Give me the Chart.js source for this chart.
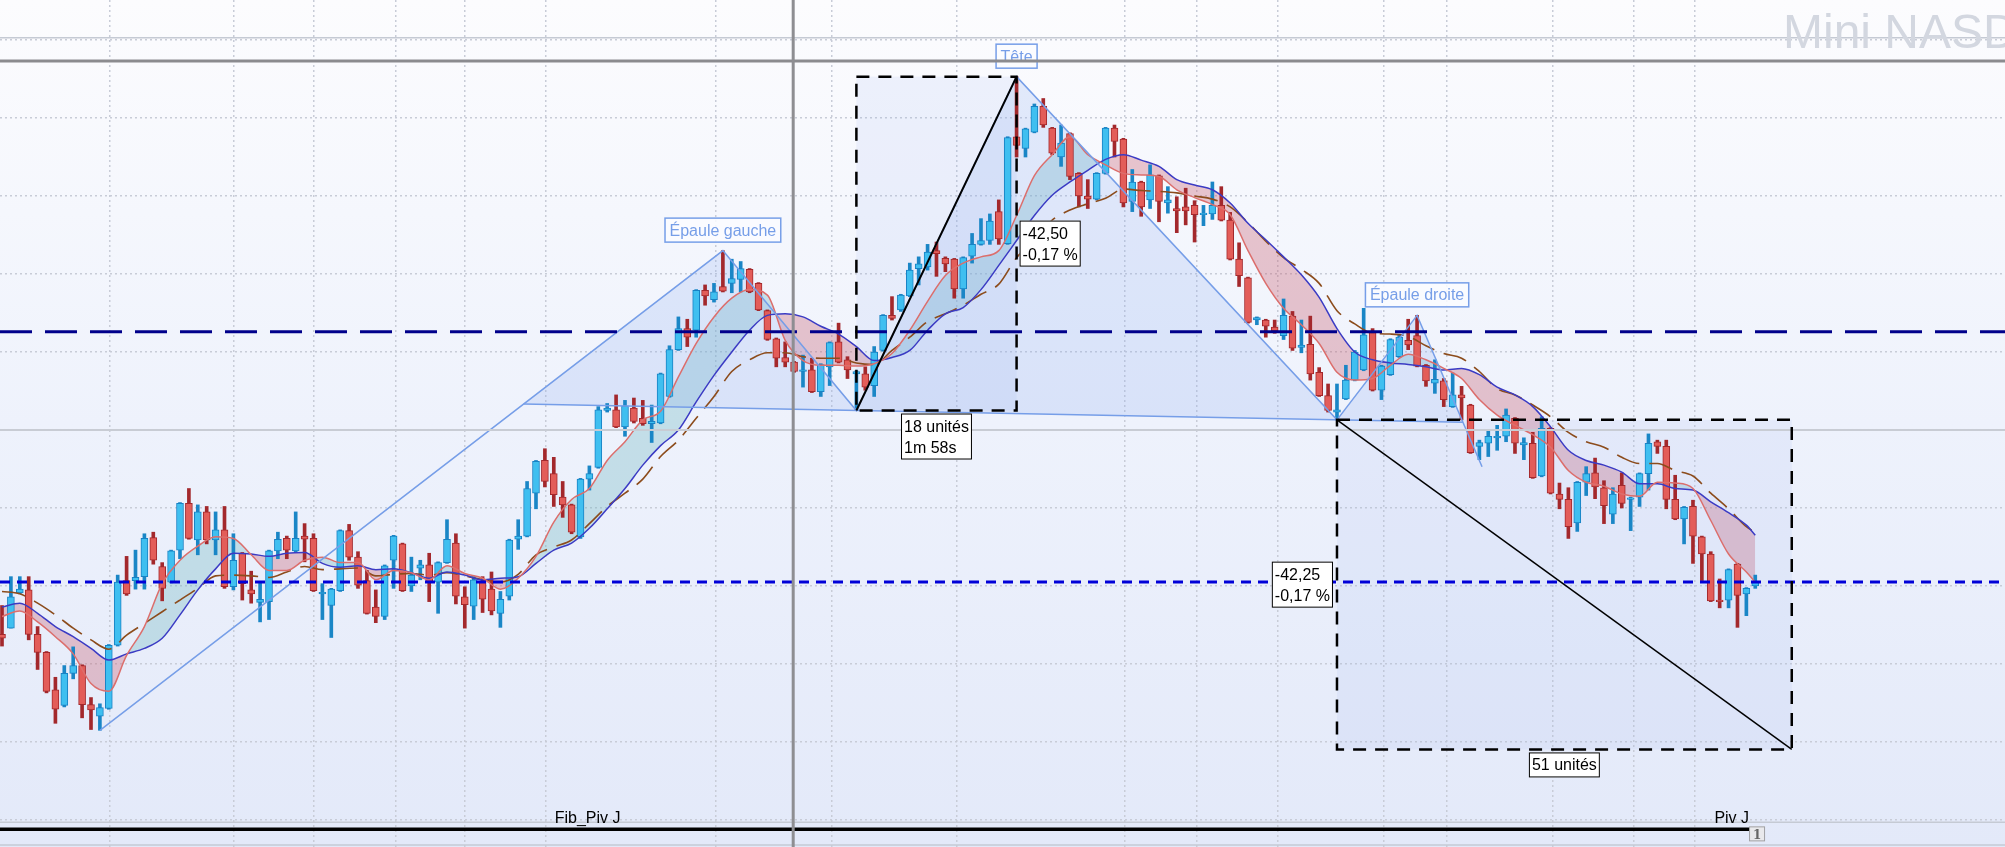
<!DOCTYPE html>
<html>
<head>
<meta charset="utf-8">
<title>Mini NASDAQ</title>
<script src="https://cdn.jsdelivr.net/npm/chart.js@4.4.1/dist/chart.umd.min.js"></script>
<style>
  html, body { margin: 0; padding: 0; overflow: hidden; background: #fff; }
  canvas { display: block; }
</style>
</head>
<body>
<canvas id="chart" width="2005" height="847"></canvas>
<script>
// one candle per bar, read left to right
const opens = [
  24973.8, 24974.6, 24979.1, 24979.5, 24973.8, 24971.5, 24966.7, 24964.7, 24968.8, 24969.8,
  24964.8, 24963.3, 24964.3, 24972.4, 24980.7, 24980.7, 24981.2, 24986.2, 24982.5, 24980.5,
  24984.6, 24990.6, 24985.9, 24989.5, 24985.9, 24987.2, 24979.9, 24984.2, 24979.5, 24977.9,
  24978.0, 24984.5, 24986.1, 24984.5, 24986.4, 24986.1, 24979.0, 24977.5, 24979.4, 24987.1,
  24983.7, 24980.7, 24977.3, 24976.1, 24983.3, 24985.4, 24980.0, 24982.3, 24982.7, 24980.5,
  24983.0, 24985.5, 24978.6, 24977.4, 24980.5, 24979.6, 24976.5, 24978.7, 24986.0, 24986.4,
  24991.9, 24996.1, 24994.4, 24991.4, 24990.4, 24986.3, 24993.7, 24995.2, 25002.5, 25002.6,
  25000.4, 25002.8, 25001.5, 25000.8, 25000.9, 25004.3, 25010.3, 25013.0, 25012.8, 25017.9,
  25016.7, 25018.4, 25018.8, 25019.3, 25020.6, 25018.8, 25015.3, 25011.7, 25009.3, 25008.7,
  25007.5, 25007.7, 25004.9, 25008.1, 25011.3, 25009.0, 25007.2, 25007.2, 25005.7, 25010.2,
  25014.7, 25015.4, 25017.2, 25020.7, 25020.9, 25023.0, 25022.0, 25021.9, 25018.1, 25022.3,
  25023.8, 25024.3, 25028.0, 25023.9, 25037.6, 25036.1, 25038.2, 25041.5, 25038.7, 25035.0,
  25038.0, 25032.9, 25030.0, 25029.6, 25032.9, 25038.7, 25037.3, 25029.3, 25031.8, 25029.5,
  25032.6, 25029.1, 25028.4, 25028.6, 25028.8, 25027.6, 25027.7, 25028.8, 25026.9, 25021.9,
  25019.5, 25014.1, 25014.1, 25013.2, 25012.1, 25014.6, 25010.6, 25011.0, 25007.4, 25004.4,
  25002.3, 25004.0, 25006.4, 25007.7, 25012.5, 25005.1, 25007.1, 25009.4, 25011.5, 25012.1,
  25008.3, 25006.0, 25006.3, 25003.0, 25004.5, 25003.2, 24997.9, 24998.3, 24999.0, 24999.2,
  25001.5, 24998.1, 24998.3, 24994.1, 25000.2, 24991.8, 24991.1, 24988.1, 24993.3, 24994.5,
  24992.6, 24989.2, 24992.9, 24991.1, 24991.4, 24994.4, 24998.5, 24997.9, 24991.1, 24988.6,
  24990.2, 24986.3, 24984.1, 24978.2, 24978.2, 24982.8, 24979.0, 24980.0
];
const highs = [
  24977.5, 24981.2, 24981.2, 24981.2, 24974.8, 24971.6, 24968.3, 24969.8, 24972.2, 24969.9,
  24965.7, 24964.9, 24972.5, 24981.4, 24983.8, 24984.6, 24986.7, 24986.9, 24983.0, 24984.6,
  24990.7, 24992.5, 24990.4, 24990.2, 24989.5, 24990.2, 24986.7, 24984.3, 24981.9, 24980.5,
  24984.6, 24986.9, 24986.4, 24989.5, 24988.0, 24986.7, 24980.3, 24979.7, 24987.2, 24987.9,
  24984.4, 24982.0, 24979.5, 24982.7, 24986.5, 24985.5, 24983.7, 24983.3, 24984.2, 24983.1,
  24988.5, 24986.7, 24979.9, 24981.2, 24981.2, 24981.8, 24979.3, 24986.0, 24988.5, 24993.4,
  24996.1, 24997.6, 24996.5, 24993.4, 24990.5, 24993.8, 24995.4, 25003.0, 25003.4, 25004.5,
  25003.8, 25004.1, 25003.8, 25003.2, 25007.3, 25010.8, 25014.5, 25014.2, 25018.0, 25018.6,
  25018.8, 25023.0, 25021.9, 25021.6, 25020.7, 25018.9, 25015.4, 25011.8, 25011.3, 25008.8,
  25009.6, 25009.2, 25008.5, 25011.3, 25013.7, 25009.4, 25007.6, 25008.1, 25010.7, 25014.8,
  25017.1, 25017.4, 25021.4, 25022.2, 25023.8, 25024.1, 25022.2, 25022.0, 25022.2, 25025.2,
  25027.1, 25027.7, 25029.5, 25037.6, 25045.3, 25038.7, 25041.8, 25042.5, 25038.8, 25039.1,
  25038.1, 25033.0, 25032.1, 25033.0, 25038.8, 25039.1, 25037.4, 25033.4, 25031.9, 25034.0,
  25032.7, 25031.2, 25029.9, 25031.0, 25029.4, 25028.8, 25031.8, 25031.2, 25027.9, 25024.0,
  25019.6, 25014.5, 25014.2, 25014.1, 25016.8, 25015.2, 25014.1, 25014.6, 25008.0, 25005.9,
  25005.9, 25008.3, 25010.2, 25015.6, 25013.0, 25008.3, 25011.7, 25012.2, 25014.2, 25014.7,
  25008.4, 25009.0, 25006.6, 25007.3, 25005.6, 25003.3, 24998.7, 25000.0, 25000.6, 25002.7,
  25001.6, 24999.0, 24999.7, 25001.7, 25000.3, 24993.2, 24992.6, 24993.4, 24995.3, 24996.4,
  24993.5, 24992.6, 24994.5, 24991.4, 24994.5, 24999.5, 24998.7, 24998.7, 24994.2, 24990.2,
  24991.0, 24986.4, 24984.4, 24980.9, 24982.2, 24982.9, 24979.8, 24981.4
];
const lows = [
  24972.3, 24974.6, 24979.0, 24973.1, 24969.3, 24966.3, 24962.4, 24964.5, 24968.1, 24963.1,
  24961.6, 24961.5, 24964.2, 24972.3, 24978.8, 24979.6, 24979.6, 24982.8, 24978.1, 24980.4,
  24983.5, 24986.0, 24984.0, 24985.4, 24984.0, 24979.7, 24979.5, 24978.2, 24977.8, 24975.4,
  24975.7, 24983.5, 24983.5, 24984.4, 24983.1, 24979.3, 24975.7, 24973.4, 24979.3, 24983.3,
  24979.7, 24976.4, 24975.3, 24975.7, 24979.7, 24979.3, 24979.3, 24980.8, 24978.0, 24976.5,
  24982.9, 24977.7, 24974.6, 24975.7, 24976.6, 24976.3, 24974.7, 24978.2, 24984.7, 24986.3,
  24989.9, 24992.7, 24990.2, 24988.8, 24986.7, 24986.1, 24992.3, 24995.1, 25002.3, 25000.3,
  24999.2, 25000.9, 25000.6, 24998.4, 25000.8, 25004.2, 25010.2, 25010.7, 25011.9, 25016.0,
  25016.4, 25017.7, 25017.6, 25017.7, 25017.6, 25015.3, 25011.5, 25008.1, 25008.1, 25007.4,
  25005.5, 25004.8, 25004.3, 25005.7, 25008.6, 25006.6, 25002.5, 25005.1, 25004.3, 25010.1,
  25014.1, 25015.2, 25017.1, 25018.6, 25020.5, 25019.7, 25020.3, 25016.9, 25016.9, 25021.4,
  25023.7, 25023.8, 25023.8, 25023.8, 25035.0, 25035.0, 25038.1, 25038.8, 25035.3, 25033.8,
  25032.1, 25028.6, 25028.4, 25029.5, 25032.8, 25035.0, 25028.6, 25028.0, 25027.4, 25028.4,
  25026.7, 25027.8, 25025.3, 25026.3, 25024.1, 25026.2, 25027.0, 25026.8, 25021.8, 25018.4,
  25013.7, 25013.5, 25011.9, 25012.4, 25011.6, 25010.2, 25009.9, 25006.4, 25004.3, 25002.3,
  25001.3, 25003.9, 25006.3, 25007.6, 25005.0, 25003.9, 25007.0, 25009.3, 25010.3, 25008.1,
  25005.6, 25004.7, 25003.0, 25002.9, 25001.3, 24997.0, 24996.2, 24996.6, 24997.4, 24998.5,
  24997.0, 24996.2, 24993.8, 24994.0, 24991.8, 24989.9, 24986.1, 24987.0, 24991.6, 24991.2,
  24988.0, 24988.0, 24990.0, 24987.1, 24990.2, 24992.3, 24997.0, 24989.9, 24988.5, 24985.4,
  24982.9, 24980.7, 24978.0, 24977.2, 24977.2, 24974.7, 24976.2, 24979.7
];
const closes = [
  24973.3, 24978.6, 24979.6, 24973.8, 24971.5, 24966.5, 24964.2, 24968.8, 24969.8, 24964.8,
  24964.1, 24964.4, 24972.4, 24980.5, 24979.0, 24981.1, 24986.1, 24983.3, 24979.7, 24984.5,
  24990.6, 24986.1, 24989.5, 24985.9, 24987.2, 24979.9, 24983.3, 24980.3, 24979.0, 24978.3,
  24984.5, 24986.0, 24984.6, 24986.1, 24986.0, 24979.4, 24979.2, 24979.6, 24987.1, 24983.7,
  24980.1, 24976.5, 24976.1, 24982.6, 24986.4, 24979.4, 24981.4, 24982.7, 24980.5, 24983.0,
  24986.0, 24978.7, 24977.6, 24980.8, 24978.3, 24976.8, 24978.3, 24985.9, 24986.4, 24992.5,
  24996.0, 24993.4, 24991.7, 24990.4, 24986.9, 24993.7, 24994.4, 25002.6, 25002.8, 25000.4,
  25003.1, 25001.1, 25000.8, 25001.1, 25007.2, 25010.3, 25013.0, 25011.9, 25017.9, 25017.2,
  25017.7, 25017.8, 25019.4, 25020.7, 25017.7, 25015.4, 25011.6, 25009.2, 25008.7, 25007.5,
  25007.7, 25004.9, 25008.4, 25011.2, 25008.7, 25007.7, 25007.5, 25005.5, 25010.0, 25014.7,
  25014.3, 25017.3, 25020.5, 25021.3, 25022.8, 25022.6, 25021.3, 25018.1, 25022.1, 25023.8,
  25024.3, 25026.8, 25024.5, 25037.5, 25036.5, 25038.6, 25041.5, 25039.1, 25035.5, 25036.8,
  25032.5, 25030.0, 25029.6, 25032.9, 25038.7, 25037.0, 25029.1, 25031.8, 25028.6, 25032.7,
  25029.3, 25029.5, 25028.1, 25028.1, 25027.6, 25027.8, 25028.8, 25026.9, 25021.9, 25019.8,
  25013.8, 25014.4, 25013.3, 25012.7, 25014.7, 25010.5, 25010.9, 25007.2, 25004.4, 25002.5,
  25002.6, 25006.4, 25010.0, 25012.2, 25005.1, 25008.2, 25011.6, 25011.9, 25010.9, 25008.2,
  25006.3, 25006.5, 25003.9, 25004.5, 25004.1, 24997.1, 24998.4, 24999.2, 24999.2, 25001.9,
  24998.3, 24998.4, 24993.9, 25000.2, 24991.9, 24991.1, 24987.6, 24993.3, 24994.4, 24992.7,
  24990.3, 24991.8, 24990.6, 24991.3, 24994.4, 24998.3, 24997.9, 24991.1, 24988.6, 24990.1,
  24986.4, 24984.1, 24978.1, 24978.0, 24982.1, 24978.8, 24979.7, 24980.5
];

// moving averages, read every second bar
const maBars = [
  0, 2, 4, 6, 8, 10, 12, 14, 16, 18, 20, 22, 24, 26, 28, 30, 32, 34, 36, 38,
  40, 42, 44, 46, 48, 50, 52, 54, 56, 58, 60, 62, 64, 66, 68, 70, 72, 74, 76, 78,
  80, 82, 84, 86, 88, 90, 92, 94, 96, 98, 100, 102, 104, 106, 108, 110, 112, 114, 116, 118,
  120, 122, 124, 126, 128, 130, 132, 134, 136, 138, 140, 142, 144, 146, 148, 150, 152, 154, 156, 158,
  160, 162, 164, 166, 168, 170, 172, 174, 176, 178, 180, 182, 184, 186, 188, 190, 192, 194, 196, 197
];
const maFast = [
  24976.1, 24976.8, 24975.4, 24973.5, 24971.3, 24967.5, 24966.5, 24971.1, 24974.8, 24980.3,
  24983.3, 24985.1, 24986.3, 24986.1, 24984.0, 24982.0, 24982.0, 24983.3, 24983.7, 24983.0,
  24983.0, 24980.8, 24982.0, 24981.7, 24980.8, 24982.6, 24981.6, 24981.0, 24979.6, 24981.0,
  24983.8, 24988.2, 24991.1, 24992.5, 24996.1, 24998.5, 25001.3, 25002.4, 25006.8, 25011.1,
  25014.5, 25016.9, 25018.0, 25017.3, 25011.5, 25008.9, 25008.3, 25008.3, 25008.2, 25008.5,
  25009.8, 25012.8, 25016.5, 25019.8, 25021.4, 25022.2, 25023.0, 25027.5, 25032.6, 25035.3,
  25037.6, 25035.3, 25034.0, 25032.9, 25032.7, 25032.5, 25030.8, 25029.8, 25028.9, 25027.6,
  25023.0, 25018.8, 25015.6, 25013.5, 25011.1, 25007.4, 25006.4, 25006.6, 25008.3, 25009.7,
  25009.0, 25007.9, 25006.6, 25003.9, 25001.9, 25000.6, 24999.4, 24997.8, 24994.8, 24993.3,
  24992.8, 24991.8, 24991.5, 24993.3, 24993.2, 24992.5, 24988.4, 24984.1, 24981.8, 24980.5
];
const maMid = [
  24977.3, 24977.8, 24976.5, 24974.8, 24973.5, 24972.0, 24970.5, 24971.3, 24972.0, 24973.3,
  24976.3, 24979.5, 24982.2, 24984.2, 24984.1, 24983.8, 24984.2, 24984.3, 24982.9, 24982.4,
  24982.6, 24982.1, 24982.2, 24981.7, 24981.0, 24981.8, 24981.4, 24980.8, 24981.0, 24981.2,
  24982.9, 24984.6, 24985.5, 24987.4, 24989.9, 24992.5, 24995.5, 24998.0, 25000.0, 25003.6,
  25007.0, 25010.0, 25012.8, 25014.7, 25014.9, 25014.5, 25013.3, 25012.3, 25010.7, 25008.9,
  25009.3, 25010.2, 25012.8, 25014.9, 25015.7, 25018.0, 25021.1, 25024.3, 25027.5, 25030.1,
  25031.8, 25033.3, 25034.7, 25035.3, 25034.6, 25033.8, 25032.1, 25031.4, 25030.8, 25029.1,
  25026.5, 25024.4, 25022.2, 25019.9, 25017.0, 25013.0, 25010.0, 25009.0, 25008.6, 25008.4,
  25008.1, 25007.7, 25007.9, 25007.1, 25005.5, 25004.5, 25003.0, 25000.4, 24997.4, 24996.1,
  24995.5, 24994.6, 24993.1, 24993.1, 24992.5, 24992.3, 24990.8, 24989.4, 24987.8, 24986.5
];
const maSlow = [
  24979.3, 24979.0, 24977.8, 24976.3, 24974.6, 24973.1, 24971.9, 24973.7, 24975.2, 24976.7,
  24978.2, 24979.7, 24981.3, 24981.4, 24981.3, 24981.1, 24981.8, 24982.5, 24982.1, 24982.2,
  24982.3, 24981.3, 24981.5, 24981.6, 24981.4, 24981.7, 24981.3, 24980.8, 24980.5, 24981.5,
  24984.0, 24985.0, 24985.9, 24988.0, 24990.2, 24991.9, 24993.7, 24996.6, 24998.7, 25001.5,
  25004.3, 25007.5, 25009.0, 25009.9, 25009.9, 25009.4, 25009.2, 25009.2, 25008.6, 25008.4,
  25010.2, 25011.9, 25013.9, 25014.9, 25016.0, 25017.4, 25018.7, 25022.1, 25024.4, 25026.9,
  25028.2, 25029.0, 25029.7, 25030.9, 25030.7, 25030.6, 25030.4, 25030.0, 25029.6, 25028.6,
  25026.6, 25024.2, 25022.1, 25020.6, 25018.8, 25015.3, 25013.6, 25012.4, 25012.3, 25012.0,
  25010.8, 25009.8, 25009.2, 25007.5, 25005.3, 25004.5, 25003.2, 25001.7, 24999.7, 24998.5,
  24997.8, 24996.5, 24995.7, 24995.7, 24994.8, 24994.1, 24991.9, 24989.9, 24987.6, 24986.9
];

// dotted grid positions
const gridBars = [12.1, 26.0, 35.0, 44.2, 52.0, 61.1, 80.2, 93.2, 107.3, 126.2, 134.3, 143.3, 155.2, 162.3, 174.3, 183.4, 190.2];
const gridPrices = [24950, 24960, 24970, 24980, 24990, 25000, 25010, 25020, 25030, 25040, 25050];

// head and shoulders: start, left shoulder, neck, head, neck, right shoulder, end
const hsBars = [11, 81, 96, 114, 150, 159, 166.3];
const hsPrices = [24961.5, 25023.0, 25002.5, 25045.3, 25001.3, 25014.7, 24995.3];
const hsLabels = ['Épaule gauche', 'Tête', 'Épaule droite'];

// measuring boxes
const boxStartBars = [96, 150];
const boxEndBars = [114, 201.1];
const boxStartPrices = [25002.5, 25001.3];
const boxEndPrices = [25045.3, 24959.05];
const boxUnits = [['18 unités', '1m 58s'], ['51 unités']];
const boxDeltas = [['-42,50', '-0,17 %'], ['-42,25', '-0,17 %']];

// horizontal levels and the time cursor
const levelPrices = [25050.3, 25047.3, 25012.6, 25000.0, 24980.5, 24949.7, 24946.8];
const pivotPrice = 24948.8;
const pivotEndBar = 197.2;
const cursorBar = 88.9;

const bars = opens.map((_, i) => i);
const isUp = bars.map(i => closes[i] >= opens[i]);

const FONT = '"Liberation Sans", Arial, sans-serif';
const PATTERN_BLUE = '#769ee8';

const levelStyles = [
  { color: '#c5cad4', width: 1.5, dash: [] },
  { color: '#8b8b8f', width: 3, dash: [] },
  { color: '#00008b', width: 3, dash: [32, 13] },
  { color: '#c8ccd4', width: 2, dash: [] },
  { color: '#0000d8', width: 3, dash: [10, 7] },
  { color: '#c5cad4', width: 1.5, dash: [] },
  { color: '#c5cad4', width: 1.5, dash: [] }
];

function intersect(p1, p2, p3, p4) {
  const d = (p1.x - p2.x) * (p3.y - p4.y) - (p1.y - p2.y) * (p3.x - p4.x);
  const t = ((p1.x - p3.x) * (p3.y - p4.y) - (p1.y - p3.y) * (p3.x - p4.x)) / d;
  return { x: p1.x + t * (p2.x - p1.x), y: p1.y + t * (p2.y - p1.y) };
}

function textBox(ctx, lines, left, top, opts) {
  ctx.font = '16px ' + FONT;
  const w = Math.max(...lines.map(l => ctx.measureText(l).width)) + opts.padX * 2;
  const h = lines.length * opts.lineH + 4;
  if (opts.align === 'center') left -= w / 2;
  if (opts.align === 'right') left -= w;
  if (opts.valign === 'middle') top -= h / 2;
  if (opts.valign === 'bottom') top -= h;
  ctx.fillStyle = opts.fill;
  ctx.fillRect(left, top, w, h);
  ctx.strokeStyle = opts.stroke;
  ctx.lineWidth = opts.lineWidth;
  ctx.setLineDash([]);
  ctx.strokeRect(left + 0.5, top + 0.5, w - 1, h - 1);
  ctx.fillStyle = opts.color;
  ctx.textAlign = 'left';
  ctx.textBaseline = 'alphabetic';
  lines.forEach((l, k) => ctx.fillText(l, left + opts.padX, top + opts.lineH * (k + 1) - 3));
}

const overlay = {
  id: 'overlay',
  beforeDraw(chart) {
    const ctx = chart.ctx;
    const g = ctx.createLinearGradient(0, 0, 0, chart.height);
    g.addColorStop(0, '#fcfcfe');
    g.addColorStop(0.5, '#eef2fc');
    g.addColorStop(1, '#e3e9f9');
    ctx.save();
    ctx.fillStyle = g;
    ctx.fillRect(0, 0, chart.width, chart.height);
    ctx.restore();
  },
  beforeDatasetsDraw(chart) {
    const { ctx, scales: { x, y } } = chart;
    const pts = hsBars.map((b, k) => ({ x: x.getPixelForValue(b), y: y.getPixelForValue(hsPrices[k]) }));
    const a = intersect(pts[0], pts[1], pts[2], pts[4]);
    const b = intersect(pts[5], pts[6], pts[2], pts[4]);
    ctx.save();
    ctx.fillStyle = 'rgba(130,165,240,0.2)';
    [[a, pts[1], pts[2]], [pts[2], pts[3], pts[4]], [pts[4], pts[5], b]].forEach(tri => {
      ctx.beginPath();
      ctx.moveTo(tri[0].x, tri[0].y);
      ctx.lineTo(tri[1].x, tri[1].y);
      ctx.lineTo(tri[2].x, tri[2].y);
      ctx.closePath();
      ctx.fill();
    });
    ctx.fillStyle = 'rgba(150,175,235,0.12)';
    boxStartBars.forEach((sb, k) => {
      const x0 = x.getPixelForValue(sb), x1 = x.getPixelForValue(boxEndBars[k]);
      const y0 = y.getPixelForValue(boxStartPrices[k]), y1 = y.getPixelForValue(boxEndPrices[k]);
      ctx.fillRect(Math.min(x0, x1), Math.min(y0, y1), Math.abs(x1 - x0), Math.abs(y1 - y0));
    });
    ctx.restore();
  },
  afterDatasetsDraw(chart) {
    const { ctx, scales: { x, y } } = chart;
    const W = chart.width, H = chart.height;
    ctx.save();

    // pattern outline
    const pts = hsBars.map((b, k) => ({ x: x.getPixelForValue(b), y: y.getPixelForValue(hsPrices[k]) }));
    const a = intersect(pts[0], pts[1], pts[2], pts[4]);
    const b = intersect(pts[5], pts[6], pts[2], pts[4]);
    ctx.strokeStyle = PATTERN_BLUE;
    ctx.lineWidth = 1.5;
    ctx.beginPath();
    pts.forEach((p, k) => (k ? ctx.lineTo(p.x, p.y) : ctx.moveTo(p.x, p.y)));
    ctx.stroke();
    ctx.beginPath();
    ctx.moveTo(a.x, a.y);
    ctx.lineTo(b.x, b.y);
    ctx.stroke();
    [1, 3, 5].forEach((idx, k) => {
      textBox(ctx, [hsLabels[k]], pts[idx].x, pts[idx].y - 8, {
        align: 'center', valign: 'bottom', padX: 5, lineH: 21,
        fill: 'rgba(250,251,255,0.85)', stroke: PATTERN_BLUE, lineWidth: 1.5, color: PATTERN_BLUE
      });
    });

    // horizontal levels
    levelPrices.forEach((p, k) => {
      const s = levelStyles[k];
      const py = y.getPixelForValue(p);
      ctx.strokeStyle = s.color;
      ctx.lineWidth = s.width;
      ctx.setLineDash(s.dash);
      ctx.beginPath();
      ctx.moveTo(0, py);
      ctx.lineTo(W, py);
      ctx.stroke();
    });
    ctx.setLineDash([]);
    const pivY = y.getPixelForValue(pivotPrice);
    const pivX = x.getPixelForValue(pivotEndBar);
    ctx.strokeStyle = '#000';
    ctx.lineWidth = 3.5;
    ctx.beginPath();
    ctx.moveTo(0, pivY);
    ctx.lineTo(pivX, pivY);
    ctx.stroke();

    // time cursor
    const cx = x.getPixelForValue(cursorBar);
    ctx.strokeStyle = '#8e8e92';
    ctx.lineWidth = 3;
    ctx.beginPath();
    ctx.moveTo(cx, 0);
    ctx.lineTo(cx, H);
    ctx.stroke();

    // measuring boxes
    boxStartBars.forEach((sb, k) => {
      const x0 = x.getPixelForValue(sb), x1 = x.getPixelForValue(boxEndBars[k]);
      const y0 = y.getPixelForValue(boxStartPrices[k]), y1 = y.getPixelForValue(boxEndPrices[k]);
      const l = Math.min(x0, x1), r = Math.max(x0, x1), t = Math.min(y0, y1), bt = Math.max(y0, y1);
      ctx.strokeStyle = '#000';
      ctx.lineWidth = 2.5;
      ctx.setLineDash([13, 9]);
      ctx.strokeRect(l, t, r - l, bt - t);
      ctx.setLineDash([]);
      ctx.lineWidth = k === 0 ? 2 : 1.5;
      ctx.beginPath();
      ctx.moveTo(x0, y0);
      ctx.lineTo(x1, y1);
      ctx.stroke();
      const boxOpts = { padX: 3, lineH: 21, fill: '#fff', stroke: '#000', lineWidth: 1, color: '#000' };
      textBox(ctx, boxUnits[k], (l + r) / 2, bt + 3, Object.assign({ align: 'center', valign: 'top' }, boxOpts));
      if (k === 0) {
        textBox(ctx, boxDeltas[k], r + 3, (t + bt) / 2, Object.assign({ align: 'left', valign: 'middle' }, boxOpts));
      } else {
        textBox(ctx, boxDeltas[k], l - 4, (t + bt) / 2, Object.assign({ align: 'right', valign: 'middle' }, boxOpts));
      }
    });

    // pivot texts
    ctx.fillStyle = '#000';
    ctx.font = '16px ' + FONT;
    ctx.textBaseline = 'alphabetic';
    ctx.textAlign = 'left';
    ctx.fillText('Fib_Piv J', x.getPixelForValue(62.1), pivY - 6);
    ctx.textAlign = 'right';
    ctx.fillText('Piv J', pivX - 8, pivY - 6);
    ctx.fillStyle = '#e9e9ec';
    ctx.fillRect(pivX - 8, pivY - 3, 16, 15);
    ctx.strokeStyle = '#a0a0a4';
    ctx.lineWidth = 1;
    ctx.strokeRect(pivX - 7.5, pivY - 2.5, 15, 14);
    ctx.fillStyle = '#666';
    ctx.font = 'bold 12px "DejaVu Serif", serif';
    ctx.textAlign = 'center';
    ctx.fillText('1', pivX, pivY + 10);

    // instrument name
    ctx.fillStyle = '#d3d7e0';
    ctx.font = '48px ' + FONT;
    ctx.textAlign = 'left';
    ctx.fillText('Mini NASDAQ', W - 222, 48);
    ctx.restore();
  }
};

new Chart(document.getElementById('chart'), {
  type: 'bar',
  data: {
    datasets: [
      {
        label: 'wicks',
        data: bars.map(i => ({ x: i, y: [lows[i], highs[i]] })),
        backgroundColor: bars.map(i => (isUp[i] ? '#1a86c6' : '#a3282c')),
        borderWidth: 0,
        barThickness: 3,
        grouped: false,
        order: 5
      },
      {
        label: 'bodies',
        data: bars.map(i => ({ x: i, y: [opens[i], closes[i]] })),
        backgroundColor: bars.map(i => (isUp[i] ? '#3fbff0' : '#e35d59')),
        borderColor: bars.map(i => (isUp[i] ? '#1882c4' : '#a3282c')),
        borderWidth: 1,
        borderSkipped: false,
        barThickness: 7,
        grouped: false,
        order: 4
      },
      {
        type: 'line',
        label: 'slow',
        data: maBars.map((b, k) => ({ x: b, y: maSlow[k] })),
        borderColor: '#8c4c1c',
        borderWidth: 1.6,
        borderDash: [24, 10],
        pointRadius: 0,
        cubicInterpolationMode: 'monotone',
        fill: false,
        order: 3
      },
      {
        type: 'line',
        label: 'mid',
        data: maBars.map((b, k) => ({ x: b, y: maMid[k] })),
        borderColor: '#3b3bc4',
        borderWidth: 1.5,
        pointRadius: 0,
        cubicInterpolationMode: 'monotone',
        fill: false,
        order: 2
      },
      {
        type: 'line',
        label: 'fast',
        data: maBars.map((b, k) => ({ x: b, y: maFast[k] })),
        borderColor: '#dc6e6c',
        borderWidth: 1.5,
        pointRadius: 0,
        cubicInterpolationMode: 'monotone',
        fill: { target: 3, above: 'rgba(105,180,190,0.32)', below: 'rgba(200,95,110,0.34)' },
        order: 1
      }
    ]
  },
  options: {
    responsive: false,
    devicePixelRatio: 1,
    animation: false,
    layout: { padding: 0 },
    scales: {
      x: {
        type: 'linear',
        min: -0.2247,
        max: 225.06,
        offset: false,
        afterBuildTicks: scale => { scale.ticks = gridBars.map(v => ({ value: v })); },
        grid: { color: '#c8ccd7', lineWidth: 1.5, drawTicks: false, offset: false },
        border: { display: false, dash: [2, 3] },
        ticks: { display: false }
      },
      y: {
        type: 'linear',
        min: 24946.54,
        max: 25055.13,
        afterBuildTicks: scale => { scale.ticks = gridPrices.map(v => ({ value: v })); },
        grid: { color: '#c8ccd7', lineWidth: 1.5, drawTicks: false },
        border: { display: false, dash: [2, 3] },
        ticks: { display: false }
      }
    },
    plugins: {
      legend: { display: false },
      tooltip: { enabled: false },
      filler: { drawTime: 'beforeDatasetsDraw' }
    }
  },
  plugins: [overlay]
});
</script>
</body>
</html>
